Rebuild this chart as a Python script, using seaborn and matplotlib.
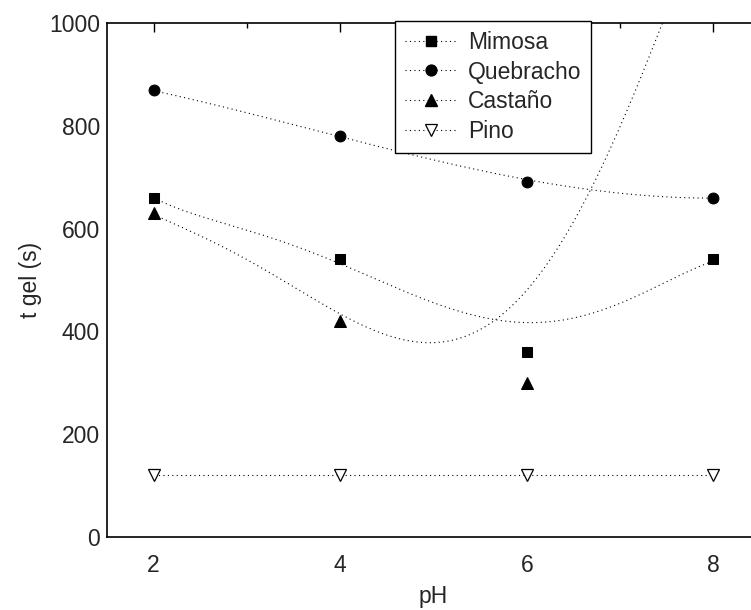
import numpy as np
import pandas as pd
import matplotlib
matplotlib.use("Agg")
import matplotlib.pyplot as plt
from matplotlib.lines import Line2D
from matplotlib.ticker import MultipleLocator
import seaborn as sns

# Gel time of tannin adhesives versus pH
ph = [2, 4, 6, 8]
mimosa = [660, 540, 360, 540]
quebracho = [870, 780, 690, 660]
castano_ph = [2, 4, 6]
castano = [630, 420, 300]
pino = [120, 120, 120, 120]

# Points along the trend curves of each tannin
mimosa_trend_ph = [2.0, 3.18, 3.95, 4.36, 4.79, 5.26, 5.64, 6.04, 6.39, 6.76, 7.11, 7.47, 7.83, 8.0]
mimosa_trend = [660, 585, 538, 505, 468, 440, 422, 416, 424, 440, 465, 492, 521, 540]
quebracho_trend_ph = [2.0, 2.99, 4.0, 4.59, 6.0, 6.69, 7.65, 8.0]
quebracho_trend = [868, 826, 779, 753, 689, 681, 661, 658]
castano_trend_ph = [2.0, 2.11, 2.83, 3.68, 3.93, 4.43, 4.97, 5.32, 5.64, 5.74,
                    6.04, 6.36, 6.69, 6.93, 7.22, 7.45]
castano_trend = [630, 614, 561, 463, 437, 401, 381, 391, 422, 430,
                 484, 569, 678, 774, 894, 996]
pino_trend_ph = [2, 8]
pino_trend = [120, 120]

labels = ["Mimosa", "Quebracho", "Castaño", "Pino"]

sns.set_style("white")
plt.rcParams["font.family"] = ["Liberation Sans", "DejaVu Sans"]
FS = 16.5

fig = plt.figure(figsize=(7.51, 6.10), dpi=100)
W, H = 751, 610
ax = fig.add_axes([107 / W, (H - 537) / H, 653 / W, (537 - 23) / H])

DOT = (0, (1.0, 3.0))
LW = 0.8


def smooth(xs, ys, deg, x_end=None):
    coef = np.polyfit(xs, ys, deg)
    grid = np.linspace(xs[0], xs[-1] if x_end is None else x_end, 300)
    return pd.DataFrame({"pH": grid, "t": np.polyval(coef, grid)})


curves = [
    smooth(mimosa_trend_ph, mimosa_trend, 5),
    smooth(quebracho_trend_ph, quebracho_trend, 3),
    smooth(castano_trend_ph, castano_trend, 5, x_end=7.7),
    pd.DataFrame({"pH": pino_trend_ph, "t": pino_trend}),
]
for c in curves:
    sns.lineplot(data=c, x="pH", y="t", ax=ax, color="black",
                 linestyle=DOT, linewidth=LW, sort=False, estimator=None)

styles = {
    "Mimosa": dict(marker="s", markersize=7.3, markerfacecolor="black", markeredgecolor="black"),
    "Quebracho": dict(marker="o", markersize=7.8, markerfacecolor="black", markeredgecolor="black"),
    "Castaño": dict(marker="^", markersize=9.2, markerfacecolor="black", markeredgecolor="black"),
    "Pino": dict(marker="v", markersize=8.2, markerfacecolor="white", markeredgecolor="black",
                 markeredgewidth=0.9),
}
series = {
    "Mimosa": (ph, mimosa),
    "Quebracho": (ph, quebracho),
    "Castaño": (castano_ph, castano),
    "Pino": (ph, pino),
}
for name in labels:
    xs, ys = series[name]
    sns.lineplot(x=xs, y=ys, ax=ax, linestyle="none", color="black",
                 estimator=None, **styles[name])

ax.set_xlim(1.5, 8.5)
ax.set_ylim(0, 1000)
ax.xaxis.set_major_locator(MultipleLocator(2))
ax.xaxis.set_minor_locator(MultipleLocator(1))
ax.yaxis.set_major_locator(MultipleLocator(200))
ax.yaxis.set_minor_locator(MultipleLocator(100))
ax.tick_params(which="both", direction="in", top=True, right=True,
               color="black", width=1.0)
ax.tick_params(which="major", length=6.5, labelsize=FS)
ax.tick_params(which="minor", length=3.5)
ax.tick_params(axis="x", which="major", pad=12)
ax.tick_params(axis="y", which="major", pad=5)
for s in ax.spines.values():
    s.set_color("black")
    s.set_linewidth(1.2)
    s.set_visible(True)

ax.set_xlabel("pH", fontsize=FS, labelpad=6)
ax.set_ylabel("t gel (s)", fontsize=FS, labelpad=5)

handles = [Line2D([], [], color="black", linestyle=DOT, linewidth=LW, **styles[n]) for n in labels]
leg = fig.legend(handles, labels, loc="upper left",
                 bbox_to_anchor=(395 / W, 1 - 21 / H), bbox_transform=fig.transFigure,
                 fontsize=FS, frameon=True, fancybox=False, shadow=False,
                 borderaxespad=0, borderpad=0.42, handlelength=2.3,
                 handletextpad=0.45, labelspacing=0.3, numpoints=1)
frame = leg.get_frame()
frame.set_edgecolor("black")
frame.set_linewidth(1.0)
frame.set_facecolor("white")
frame.set_alpha(1)

fig.savefig("out.png", dpi=100)
